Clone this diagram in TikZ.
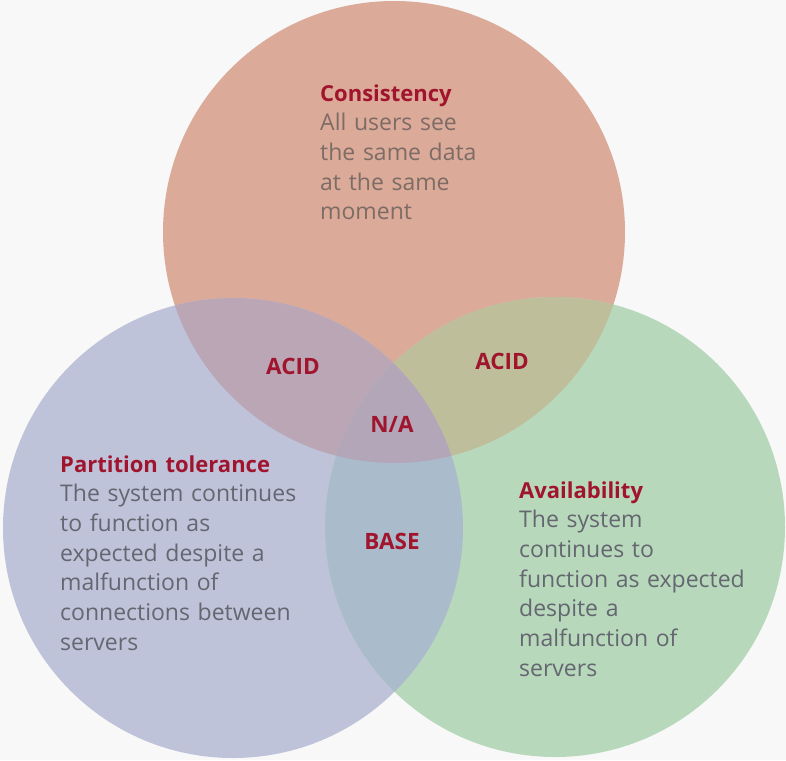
\documentclass[tikz,border=0pt]{standalone}
\usepackage{fontspec}
\setmainfont{Open Sans}
\definecolor{bgc}{RGB}{248,248,248}
\definecolor{ctop}{RGB}{219,170,152}
\definecolor{cleft}{RGB}{190,195,217}
\definecolor{cright}{RGB}{184,216,188}
\definecolor{ctl}{RGB}{186,166,181}
\definecolor{ctr}{RGB}{190,190,155}
\definecolor{clr}{RGB}{170,187,204}
\definecolor{call}{RGB}{178,166,184}
\definecolor{titlered}{RGB}{160,20,45}
\definecolor{bodya}{RGB}{125,108,102}
\definecolor{bodyb}{RGB}{100,102,112}
\begin{document}
\begin{tikzpicture}[x=1pt,y=-1pt,
  block/.style={anchor=base west, inner sep=0pt, align=left, text width=320pt,
    font=\fontsize{23}{29.7}\selectfont},
  ttl/.style={font=\bfseries\fontsize{22}{29.7}\selectfont},
  lbl/.style={inner sep=0pt, font=\bfseries\fontsize{22.5}{25}\selectfont, text=titlered}]
\useasboundingbox (0,0) rectangle (786,760);
\fill[bgc] (0,0) rectangle (786,760);
\def\Ctop{(394,232) circle (231pt)}
\def\Cleft{(233,528) circle (230pt)}
\def\Cright{(555,527) circle (230pt)}
\fill[ctop] \Ctop;
\fill[cleft] \Cleft;
\fill[cright] \Cright;
\begin{scope}\clip \Ctop; \fill[ctl] \Cleft; \end{scope}
\begin{scope}\clip \Ctop; \fill[ctr] \Cright; \end{scope}
\begin{scope}\clip \Cleft; \fill[clr] \Cright; \end{scope}
\begin{scope}\clip \Ctop; \clip \Cleft; \fill[call] \Cright; \end{scope}
\node[block, text=bodya] (cons) at (320,101)
  {{\bfseries\fontsize{22}{29.7}\selectfont\color{titlered}Consistency}\\All users see\\the same data\\at the same\\moment};
\node[block, text=bodyb] (part) at (60,472)
  {{\bfseries\fontsize{22}{29.7}\selectfont\color{titlered}Partition tolerance}\\The system continues\\to function as\\expected despite a\\malfunction of\\connections between\\servers};
\node[block, text=bodyb] (avail) at (519,498)
  {{\bfseries\fontsize{22}{29.7}\selectfont\color{titlered}Availability}\\The system\\continues to\\function as expected\\despite a\\malfunction of\\servers};
\node[lbl] (acidl) at (293,366) {ACID};
\node[lbl] (acidr) at (502,361) {ACID};
\node[lbl] (na) at (392,424) {N/A};
\node[lbl] (base) at (392,541) {BASE};
\end{tikzpicture}
\end{document}
